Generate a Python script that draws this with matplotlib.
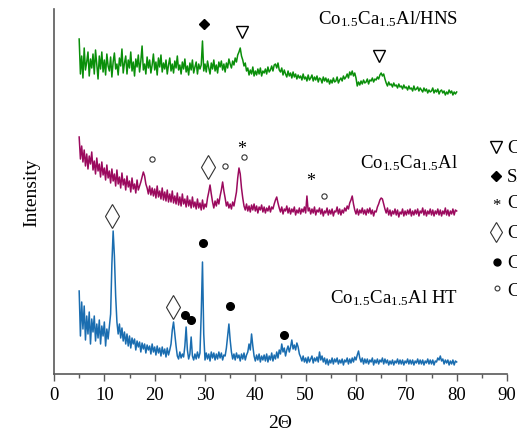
import numpy as np
import matplotlib
matplotlib.use('Agg')
from matplotlib import pyplot as plt
from matplotlib.ticker import MultipleLocator

# 2-theta grid, 0.25 deg steps from 5 to 80
theta = np.linspace(5, 80, 301)

# Co1.5Ca1.5Al/HNS (green, top) - 4 values per degree
int_hns = [
    335, 300, 318, 296, 326, 304, 312, 322, 298, 315, 306, 320, 300, 324, 310, 295,
    318, 305, 322, 302, 314, 299, 320, 308, 303, 317, 297, 312, 321, 305, 310, 299,
    316, 308, 325, 301, 311, 318, 300, 314, 306, 322, 303, 312, 298, 315, 307, 319,
    302, 313, 328, 304, 310, 300, 317, 306, 314, 301, 309, 320, 304, 312, 299, 316,
    307, 319, 302, 311, 305, 314, 300, 309, 316, 303, 310, 301, 313, 306, 318, 304,
    309, 300, 312, 305, 315, 302, 308, 299, 311, 304, 314, 301, 307, 312, 300, 310,
    305, 309, 333, 303, 310, 302, 313, 306, 300, 311, 305, 314, 303, 309, 301, 312,
    307, 313, 304, 310, 302, 311, 306, 315, 310, 306, 313, 309, 316, 312, 319, 322,
    326, 318, 314, 308, 311, 303, 306, 299, 304, 300, 307, 298, 303, 299, 305, 300,
    306, 298, 303, 301, 305, 300, 307, 302, 304, 308, 303, 309, 310, 306, 311, 304,
    302, 306, 299, 304, 300, 297, 303, 298, 301, 296, 302, 297, 300, 295, 299, 296,
    298, 294, 300, 295, 297, 293, 299, 294, 296, 299, 293, 297, 294, 298, 292, 296,
    295, 291, 297, 293, 296, 292, 295, 290, 294, 291, 296, 292, 293, 297, 291, 294,
    296, 293, 298, 295, 297, 300, 296, 302, 299, 303, 298, 301, 296, 288, 292, 289,
    293, 290, 294, 291, 292, 295, 290, 294, 293, 296, 292, 295, 294, 297, 295, 299,
    301, 298, 300, 295, 291, 288, 292, 289, 290, 287, 291, 288, 289, 286, 290, 287,
    288, 285, 289, 286, 287, 284, 288, 285, 286, 283, 288, 284, 285, 287, 283, 286,
    284, 282, 286, 283, 285, 281, 284, 282, 283, 286, 281, 284, 282, 285, 280, 283,
    284, 281, 283, 279, 282, 280, 284, 281, 283, 279, 282, 280, 282,
]

# Co1.5Ca1.5Al (magenta, middle)
int_cal = [
    237, 215, 228, 212, 224, 208, 220, 205, 218, 210, 222, 204, 213, 200, 216, 203,
    210, 197, 212, 199, 206, 194, 209, 196, 203, 191, 205, 193, 200, 188, 204, 190,
    197, 186, 201, 189, 195, 184, 198, 187, 193, 182, 196, 185, 190, 181, 194, 184,
    188, 192, 197, 202, 198, 190, 186, 180, 188, 179, 186, 178, 185, 176, 188, 177,
    183, 175, 186, 174, 182, 173, 184, 172, 180, 172, 183, 171, 178, 170, 181, 169,
    177, 168, 180, 170, 175, 167, 178, 168, 174, 166, 177, 167, 172, 165, 175, 166,
    171, 164, 174, 165, 170, 167, 176, 182, 189, 180, 172, 166, 173, 168, 175, 170,
    178, 184, 192, 183, 176, 168, 172, 166, 170, 165, 172, 168, 175, 182, 196, 206,
    200, 186, 176, 168, 164, 170, 163, 168, 162, 169, 164, 170, 163, 168, 161, 167,
    164, 169, 162, 167, 161, 166, 163, 168, 162, 167, 165, 170, 174, 177, 171, 166,
    162, 167, 160, 165, 163, 168, 161, 166, 160, 165, 162, 167, 159, 164, 161, 166,
    160, 165, 162, 167, 161, 178, 163, 166, 160, 165, 161, 167, 159, 164, 162, 166,
    160, 165, 158, 163, 161, 166, 159, 164, 160, 165, 158, 163, 162, 167, 160, 165,
    159, 164, 161, 166, 163, 168, 165, 171, 174, 178, 170, 164, 160, 165, 159, 164,
    161, 166, 160, 164, 159, 165, 161, 166, 160, 164, 158, 163, 162, 167, 170, 174,
    176, 175, 170, 165, 161, 166, 159, 164, 158, 163, 160, 165, 159, 164, 157, 162,
    160, 165, 158, 163, 159, 164, 160, 165, 158, 163, 159, 164, 160, 165, 158, 163,
    161, 166, 159, 164, 158, 163, 160, 165, 159, 164, 158, 163, 160, 165, 159, 164,
    158, 163, 160, 166, 159, 164, 158, 163, 160, 165, 159, 164, 163,
]

# Co1.5Ca1.5Al HT (blue, bottom)
int_ht = [
    83, 38, 72, 45, 68, 34, 58, 40, 62, 30, 55, 42, 58, 33, 50, 36,
    54, 30, 48, 38, 52, 28, 45, 35, 48, 60, 110, 143, 118, 78, 52, 40,
    50, 36, 46, 33, 42, 30, 40, 28, 38, 26, 36, 30, 35, 24, 33, 27,
    32, 22, 31, 25, 30, 21, 29, 24, 28, 20, 30, 22, 27, 19, 28, 21,
    26, 18, 27, 20, 25, 17, 26, 19, 24, 30, 44, 52, 40, 28, 18, 15,
    22, 16, 20, 17, 28, 47, 24, 15, 20, 37, 18, 14, 20, 15, 22, 16,
    21, 60, 112, 40, 14, 21, 15, 20, 13, 22, 16, 21, 14, 20, 15, 22,
    16, 21, 14, 19, 18, 26, 38, 50, 34, 22, 15, 20, 14, 21, 16, 19,
    13, 20, 15, 21, 14, 19, 22, 30, 24, 40, 28, 18, 13, 19, 14, 20,
    12, 18, 14, 19, 13, 20, 12, 18, 14, 21, 13, 19, 15, 22, 16, 24,
    20, 30, 22, 26, 18, 24, 28, 22, 27, 34, 25, 29, 24, 31, 27, 20,
    17, 13, 18, 12, 16, 11, 17, 12, 15, 18, 11, 16, 13, 17, 12, 22,
    14, 18, 12, 16, 10, 15, 9, 14, 11, 16, 10, 15, 12, 16, 10, 14,
    11, 15, 9, 14, 12, 16, 10, 15, 11, 16, 12, 17, 14, 19, 23, 16,
    12, 16, 10, 15, 11, 15, 10, 14, 12, 16, 9, 14, 11, 15, 10, 14,
    12, 16, 10, 15, 11, 14, 9, 13, 10, 14, 9, 13, 11, 15, 10, 14,
    10, 14, 9, 13, 11, 15, 10, 14, 10, 14, 9, 13, 11, 15, 10, 14,
    10, 14, 9, 13, 11, 15, 10, 14, 10, 14, 9, 13, 12, 16, 14, 18,
    13, 15, 10, 14, 11, 14, 9, 13, 10, 14, 9, 13, 12,
]

labels = [r'Co$_\mathregular{1.5}$Ca$_\mathregular{1.5}$Al/HNS',
          r'Co$_\mathregular{1.5}$Ca$_\mathregular{1.5}$Al',
          r'Co$_\mathregular{1.5}$Ca$_\mathregular{1.5}$Al HT']
label_y = [356, 212, 77]
colors = ['#0a8f0a', '#9b0a5e', '#1a6db0']

# phase markers (2theta, height)
tri_x, tri_y = [37.4, 64.6], [342, 318]
dia_fill_x, dia_fill_y = [29.8], [350]
dia_open_x, dia_open_y = [30.6, 11.5, 23.6], [207, 158, 67]
dot_x, dot_y = [26.0, 27.2, 29.6, 35.0, 45.7], [59, 54, 131, 68, 39]
circ_x, circ_y = [19.5, 34.0, 37.7, 53.6], [215, 208, 217, 178]
star_x, star_y = [37.2, 50.9], [226, 193]

# legend rows (cut off by the right edge of the figure, as in the original)
leg_names = ['Co', 'SiO', 'Co', 'Ca', 'Co', 'Co']
leg_y = [227, 198, 172, 142, 112, 83]

plt.rcParams['font.family'] = ['Liberation Serif', 'DejaVu Serif']
plt.rcParams['mathtext.fontset'] = 'stix'

fig = plt.figure(figsize=(5.17, 4.39), dpi=100)
ax = fig.add_axes([54 / 517, 64 / 439, 453 / 517, 365 / 439])

for y, c in zip([int_hns, int_cal, int_ht], colors):
    ax.plot(theta, y, color=c, lw=1.1)

for t, yy in zip(labels, label_y):
    ax.text(80.3, yy, t, ha='right', va='center', fontsize=13.5)

ax.plot(tri_x, tri_y, 'v', ms=9, mfc='white', mec='black', mew=1.0)
ax.plot(dia_fill_x, dia_fill_y, 'D', ms=5.5, color='black')
ax.plot(dia_open_x, dia_open_y, 'd', ms=12, mfc='white', mec='#333333', mew=0.8)
ax.plot(dot_x, dot_y, 'o', ms=5.5, color='black')
ax.plot(circ_x, circ_y, 'o', ms=3.8, mfc='white', mec='#333333', mew=0.8)
for sx, sy in zip(star_x, star_y):
    ax.text(sx, sy, '*', ha='center', va='center', fontsize=13)

# legend symbols
lx = 87.8
ax.plot([lx], [leg_y[0]], 'v', ms=8, mfc='white', mec='black', mew=1.0, clip_on=False)
ax.plot([lx], [leg_y[1]], 'D', ms=5, color='black', clip_on=False)
ax.text(lx, leg_y[2] - 3, '*', ha='center', va='center', fontsize=12, clip_on=False)
ax.plot([lx], [leg_y[3]], 'd', ms=10, mfc='white', mec='#333333', mew=0.8, clip_on=False)
ax.plot([lx + 0.3], [leg_y[4]], 'o', ms=5, color='black', clip_on=False)
ax.plot([lx + 0.2], [leg_y[5] + 3], 'o', ms=3.5, mfc='white', mec='#333333', mew=0.8, clip_on=False)
for t, yy in zip(leg_names, leg_y):
    ax.text(90.0, yy, t, ha='left', va='center', fontsize=13.5, clip_on=False)

ax.set_xlim(0, 90)
ax.set_ylim(0, 365)
ax.xaxis.set_major_locator(MultipleLocator(10))
ax.xaxis.set_minor_locator(MultipleLocator(5))
ax.set_yticks([])
ax.tick_params(axis='x', which='major', direction='out', length=5, width=1, color='#595959', labelsize=13.5)
ax.tick_params(axis='x', which='minor', direction='out', length=3, width=1, color='#595959')
for s in ['top', 'right']:
    ax.spines[s].set_visible(False)
for s in ['left', 'bottom']:
    ax.spines[s].set_color('#595959')
    ax.spines[s].set_linewidth(1.2)
ax.set_xlabel('2\u0398', fontsize=14, labelpad=8)
ax.set_ylabel('Intensity', fontsize=14, labelpad=10)

fig.savefig('out.png', dpi=100)
